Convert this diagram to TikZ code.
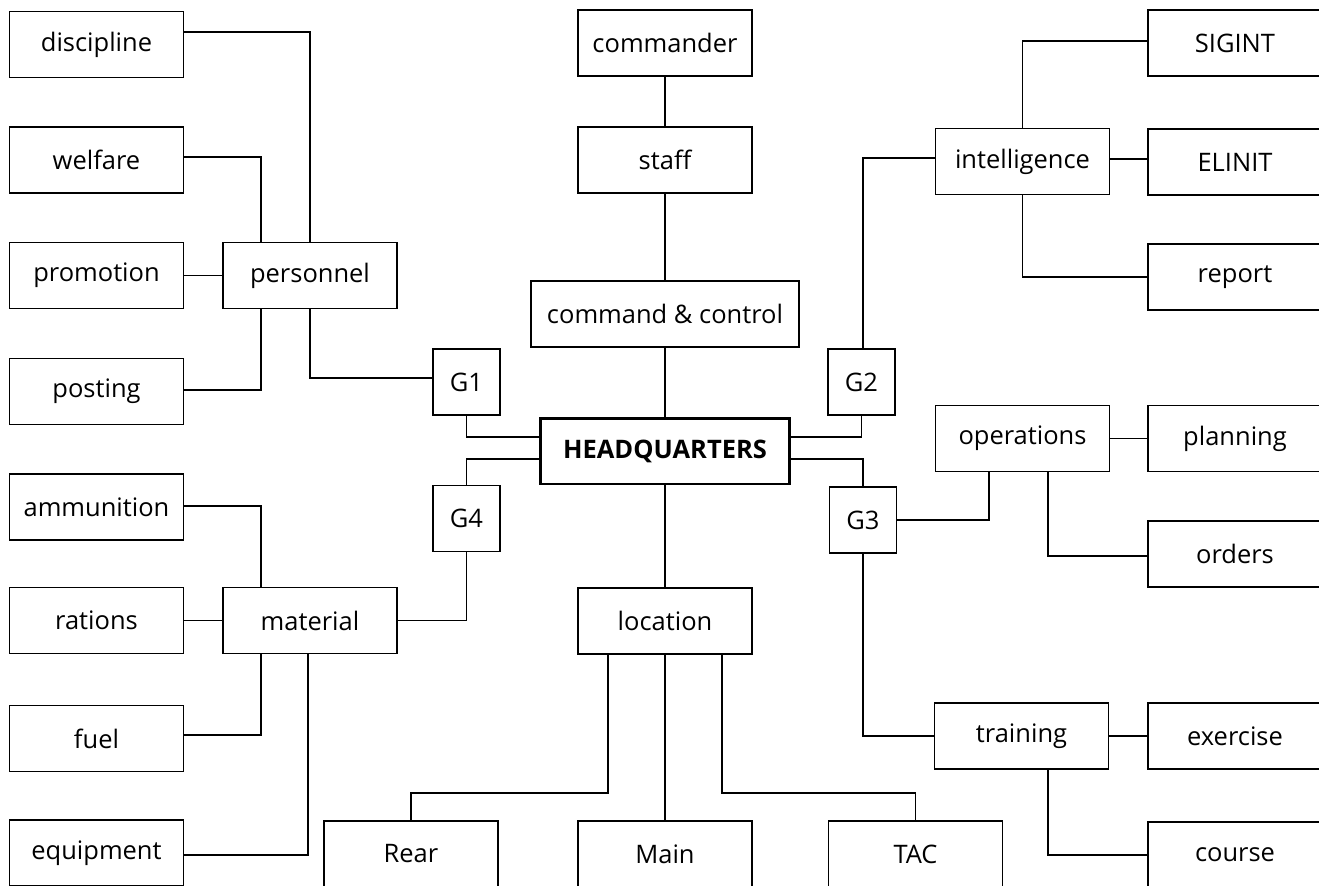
\documentclass[tikz,border=0pt]{standalone}
\usepackage{fontspec}
\setmainfont{Open Sans}

\begin{document}
\begin{tikzpicture}[x=0.02cm, y=-0.02cm]
\fontsize{14.5}{17}\selectfont
\tikzset{
  BoxStyle/.style = {draw, line width=0.9pt, minimum width=3.48cm,
                     minimum height=1.32cm, inner sep=0pt},
  GStyle/.style   = {BoxStyle, minimum width=1.34cm},
  HQStyle/.style  = {BoxStyle, line width=1.7pt, minimum width=4.98cm,
                     font=\bfseries},
  LinkStyle/.style = {line width=0.9pt},
}
\useasboundingbox (0,0) rectangle (1319,886);

  % centre
  \node[HQStyle]  (hq)    at (665,451)   {HEADQUARTERS};
  \node[BoxStyle] (cmdr)  at (665,43)    {commander};
  \node[BoxStyle] (staff) at (665,160)   {staff};
  \node[BoxStyle, minimum width=5.36cm] (cc) at (665,314) {command \& control};
  \node[BoxStyle] (loc)   at (665,621)   {location};
  \node[BoxStyle] (rear)  at (411,854)   {Rear};
  \node[BoxStyle] (main)  at (665,854)   {Main};
  \node[BoxStyle] (tac)   at (915.5,854) {TAC};

  \node[GStyle] (g1) at (466.5,382) {G1};
  \node[GStyle] (g4) at (466.5,518.5) {G4};
  \node[GStyle] (g2) at (861.5,382) {G2};
  \node[GStyle] (g3) at (863,520) {G3};

  % left side
  \node[BoxStyle] (pers)   at (310,275.5)  {personnel};
  \node[BoxStyle] (mat)    at (310,620.5)  {material};
  \node[BoxStyle] (disc)   at (96.5,44.5)  {discipline};
  \node[BoxStyle] (welf)   at (96.5,160)   {welfare};
  \node[BoxStyle] (promo)  at (96.5,275.5) {promotion};
  \node[BoxStyle] (post)   at (96.5,391.5) {posting};
  \node[BoxStyle] (ammo)   at (96.5,507)   {ammunition};
  \node[BoxStyle] (ration) at (96.5,620.5) {rations};
  \node[BoxStyle] (fuel)   at (96.5,738.5) {fuel};
  \node[BoxStyle] (equip)  at (96.5,853)   {equipment};

  % right side
  \node[BoxStyle] (intel)  at (1022.5,161.5) {intelligence};
  \node[BoxStyle] (ops)    at (1022.5,438.5) {operations};
  \node[BoxStyle] (train)  at (1021.5,736)   {training};
  \node[BoxStyle] (sigint) at (1235,43)      {SIGINT};
  \node[BoxStyle] (elinit) at (1235,162)     {ELINIT};
  \node[BoxStyle] (report) at (1235,277)     {report};
  \node[BoxStyle] (plan)   at (1235,438.5)   {planning};
  \node[BoxStyle] (orders) at (1235,554)     {orders};
  \node[BoxStyle] (exer)   at (1235,736)     {exercise};
  \node[BoxStyle] (course) at (1235,855)     {course};

  \begin{scope}[LinkStyle]
  % command line
  \draw (cmdr) -- (staff);
  \draw (staff) -- (cc);
  \draw (cc) -- (hq);
  \draw (hq) -- (loc);
  \draw (loc) -- (main);
  \draw ([xshift=-1.14cm]loc.south) -- ++(0,-2.76cm) -| (rear.north);
  \draw ([xshift=1.14cm]loc.south) -- ++(0,-2.76cm) -| (tac.north);

  % G1 / G4
  \draw (g1.south) |- ([yshift=0.28cm]hq.west);
  \draw ([yshift=-0.16cm]hq.west) -| (g4.north);
  \draw (pers.south) |- ([yshift=0.08cm]g1.west);
  \draw (g4.south) |- (mat.east);
  \draw ([yshift=0.25cm]disc.east) -| (pers.north);
  \draw ([yshift=0.06cm]welf.east) -| ([xshift=-0.98cm]pers.north);
  \draw (promo) -- (pers);
  \draw ([yshift=0.03cm]post.east) -| ([xshift=-0.98cm]pers.south);
  \draw ([yshift=0.02cm]ammo.east) -| ([xshift=-0.98cm]mat.north);
  \draw (ration) -- (mat);
  \draw ([yshift=0.07cm]fuel.east) -| ([xshift=-0.98cm]mat.south);
  \draw ([yshift=-0.04cm]equip.east) -| ([xshift=-0.04cm]mat.south);

  % G2 / G3
  \draw (g2.south) |- ([yshift=0.28cm]hq.east);
  \draw ([yshift=-0.16cm]hq.east) -| (g3.north);
  \draw ([xshift=0.03cm]g2.north) |- ([yshift=0.07cm]intel.west);
  \draw (intel.north) |- ([yshift=0.04cm]sigint.west);
  \draw ([yshift=0.05cm]intel.east) -- ([yshift=0.05cm]intel.east -| elinit.west);
  \draw (intel.south) |- (report.west);
  \draw (ops) -- (plan);
  \draw (g3.east) -| ([xshift=-0.67cm]ops.south);
  \draw ([xshift=0.51cm]ops.south) |- ([yshift=-0.04cm]orders.west);
  \draw (g3.south) |- (train.west);
  \draw (train) -- (exer);
  \draw ([xshift=0.53cm]train.south) |- (course.west);
  \end{scope}

\end{tikzpicture}
\end{document}
